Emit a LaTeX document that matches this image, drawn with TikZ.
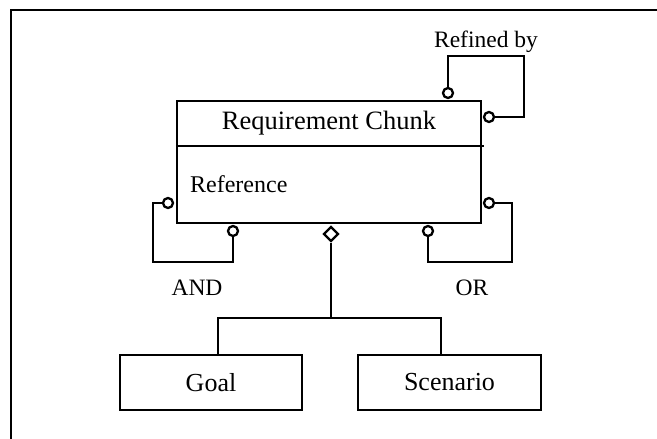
\documentclass[tikz,border=0pt]{standalone}
\usepackage{fontspec}
\setmainfont{Liberation Serif}
\usetikzlibrary{shapes.geometric}

\begin{document}
\begin{tikzpicture}[x=1pt, y=-1pt, line width=2.3pt]
\useasboundingbox (0,0) rectangle (657,439);

\coordinate (F_1) at (11,439);
\coordinate (F_2) at (11,10);
\coordinate (F_3) at (657,10);

\coordinate (R_1) at (448,56);
\coordinate (R_2) at (524,56);
\coordinate (R_3) at (524,117);
\coordinate (A_1) at (153,203);
\coordinate (A_2) at (153,262);
\coordinate (A_3) at (233,262);
\coordinate (O_1) at (512,203);
\coordinate (O_2) at (512,262);
\coordinate (O_3) at (428,262);
\coordinate (T_1) at (331,318);
\coordinate (T_2) at (218,318);
\coordinate (T_3) at (441,318);

\draw (F_1) -- (F_2) -- (F_3);


\tikzset{BoxStyle/.style = {
 draw,
 rectangle,
 inner sep = 0pt,
 font = \fontsize{26}{31}\selectfont} }

\node[BoxStyle, minimum width=304pt, minimum height=122pt] (Chunk) at (329,162) {};
\draw (Chunk.west |- 0,146) -- (484,146);
\node[font=\fontsize{26.5}{31}\selectfont] (ChunkName) at (329,123) {Requirement Chunk};
\node[font=\fontsize{24}{29}\selectfont, anchor=west, inner sep=0pt] (ChunkAttr) at (189,184) {Reference};

\node[BoxStyle, minimum width=182pt, minimum height=55pt] (Goal) at (211,382.5) {Goal};
\node[BoxStyle, minimum width=183pt, minimum height=55pt] (Scenario) at (449.5,382.5) {Scenario};


\tikzset{LabelStyle/.style = {font = \fontsize{23.5}{28}\selectfont, inner sep = 0pt} }

\node[LabelStyle] (RefinedBy) at (486,42) {Refined by};
\node[LabelStyle] (And) at (197,288) {AND};
\node[LabelStyle] (Or) at (472,288) {OR};


\tikzset{RoleStyle/.style = {
 shape = circle,
 draw,
 fill = white,
 inner sep = 0pt,
 minimum size = 10pt} }

\node[RoleStyle] (RTop) at (448,93) {};
\node[RoleStyle] (RSide) at (489,117) {};
\node[RoleStyle] (ASide) at (168,203) {};
\node[RoleStyle] (ABot) at (233,231) {};
\node[RoleStyle] (OSide) at (489,203) {};
\node[RoleStyle] (OBot) at (428,231) {};
\node[shape=diamond, draw, fill=white, inner sep=0pt, minimum size=15pt] (Agg) at (331,234) {};

\draw (RTop.north) -- (R_1) -- (R_2) -- (R_3) -- (RSide.east);
\draw (ASide.west) -- (A_1) -- (A_2) -- (A_3) -- (ABot.south);
\draw (OSide.east) -- (O_1) -- (O_2) -- (O_3) -- (OBot.south);
\draw (Agg.south) -- (T_1);
\draw (Goal.north -| T_2) -- (T_2) -- (T_3) -- (Scenario.north -| T_3);

\end{tikzpicture}
\end{document}
